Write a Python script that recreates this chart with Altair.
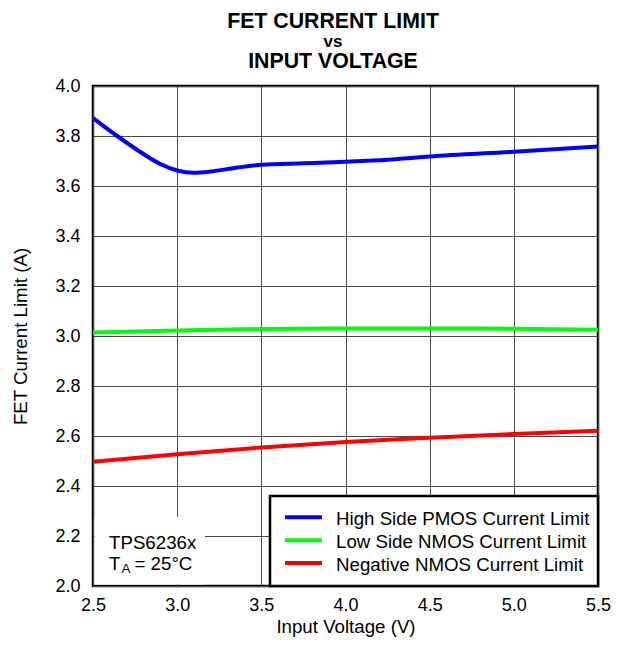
import altair as alt
import pandas as pd

# ---- data ----
series_names = ["High Side PMOS Current Limit", "Low Side NMOS Current Limit", "Negative NMOS Current Limit"]
series_colors = ["#0000FF", "#00FF00", "#FF0000"]

vin_high = [2.5, 2.65, 2.8, 2.9, 3.0, 3.1, 3.2, 3.35, 3.5, 3.75, 4.0, 4.25, 4.5, 5.0, 5.5]
ilim_high = [3.872, 3.797, 3.728, 3.688, 3.662, 3.653, 3.658, 3.673, 3.685, 3.691, 3.697, 3.705, 3.718, 3.737, 3.758]

vin_low = [2.5, 3.0, 3.5, 4.0, 4.5, 5.0, 5.5]
ilim_low = [3.014, 3.022, 3.028, 3.030, 3.030, 3.029, 3.025]

vin_neg = [2.5, 3.0, 3.5, 4.0, 4.5, 5.0, 5.5]
ilim_neg = [2.497, 2.527, 2.554, 2.576, 2.593, 2.608, 2.621]

x_ticks = [2.5, 3.0, 3.5, 4.0, 4.5, 5.0, 5.5]
y_ticks = [2.0, 2.2, 2.4, 2.6, 2.8, 3.0, 3.2, 3.4, 3.6, 3.8, 4.0]

title_lines = ["FET CURRENT LIMIT", "vs", "INPUT VOLTAGE"]
note_device = "TPS6236x"

FONT = "Liberation Sans, Arial, sans-serif"
W, H = 505, 500
TXT = 18.7

df = pd.concat([
    pd.DataFrame({"vin": vin_high, "ilim": ilim_high, "series": series_names[0]}),
    pd.DataFrame({"vin": vin_low, "ilim": ilim_low, "series": series_names[1]}),
    pd.DataFrame({"vin": vin_neg, "ilim": ilim_neg, "series": series_names[2]}),
])

color_scale = alt.Scale(domain=series_names, range=series_colors)

lines = alt.Chart(df).mark_line(strokeWidth=4, interpolate="monotone").encode(
    x=alt.X("vin:Q", scale=alt.Scale(domain=[2.5, 5.5], nice=False, zero=False),
            axis=alt.Axis(values=x_ticks, format=".1f", title="Input Voltage (V)",
                          labelPadding=10, labelFlush=False, labelOverlap=False,
                          titleX=W / 2, titleY=46,
                          titleBaseline="alphabetic", titleAlign="center")),
    y=alt.Y("ilim:Q", scale=alt.Scale(domain=[2.0, 4.0], nice=False, zero=False),
            axis=alt.Axis(values=y_ticks, format=".1f", title="FET Current Limit (A)",
                          labelPadding=13, labelFlush=False, labelOverlap=False,
                          titleX=-67, titleY=H / 2, titleAngle=-90,
                          titleBaseline="alphabetic", titleAlign="center")),
    color=alt.Color("series:N", scale=color_scale, legend=None),
)

one = alt.Data(values=[{}])

# legend box
legend_box = alt.Chart(one).mark_rect(fill="white", stroke="black", strokeWidth=2.5).encode(
    x=alt.value(177), x2=alt.value(W), y=alt.value(H - 90), y2=alt.value(H))

legend_layers = []
for i, (name, col) in enumerate(zip(series_names, series_colors)):
    yy = H - 68.7 + i * 22.9
    legend_layers.append(alt.Chart(one).mark_rule(color=col, strokeWidth=4).encode(
        x=alt.value(192), x2=alt.value(229), y=alt.value(yy)))
    legend_layers.append(alt.Chart(one).mark_text(
        text=name, font=FONT, fontSize=TXT, align="left", baseline="alphabetic", color="black").encode(
        x=alt.value(243), y=alt.value(yy + 8)))

# annotation box (white background hiding grid) and text
note_box = alt.Chart(one).mark_rect(fill="white").encode(
    x=alt.value(1.5), x2=alt.value(112), y=alt.value(H - 69), y2=alt.value(H - 1.5))
note1 = alt.Chart(one).mark_text(text=note_device, font=FONT, fontSize=TXT, align="left",
                                 baseline="alphabetic", color="black").encode(
    x=alt.value(16), y=alt.value(H - 37.3))
note2a = alt.Chart(one).mark_text(text="T", font=FONT, fontSize=TXT, align="left",
                                  baseline="alphabetic", color="black").encode(
    x=alt.value(16), y=alt.value(H - 16.3))
note2b = alt.Chart(one).mark_text(text="A", font=FONT, fontSize=13.5, align="left",
                                  baseline="alphabetic", color="black").encode(
    x=alt.value(28.5), y=alt.value(H - 13.5))
note2c = alt.Chart(one).mark_text(text="= 25°C", font=FONT, fontSize=TXT, align="left",
                                  baseline="alphabetic", color="black").encode(
    x=alt.value(41.5), y=alt.value(H - 16.3))

# title lines
t1 = alt.Chart(one).mark_text(text=title_lines[0], font=FONT, fontSize=21.3, fontWeight="bold",
                              align="center", baseline="alphabetic", color="black").encode(
    x=alt.value(240), y=alt.value(-57.7))
t2 = alt.Chart(one).mark_text(text=title_lines[1], font=FONT, fontSize=17, fontWeight="bold",
                              align="center", baseline="alphabetic", color="black").encode(
    x=alt.value(240), y=alt.value(-39.5))
t3 = alt.Chart(one).mark_text(text=title_lines[2], font=FONT, fontSize=21.3, fontWeight="bold",
                              align="center", baseline="alphabetic", color="black").encode(
    x=alt.value(240), y=alt.value(-17.7))

chart = alt.layer(lines, legend_box, *legend_layers, note_box, note1, note2a, note2b, note2c,
                  t1, t2, t3).properties(
    width=W, height=H,
    autosize=alt.AutoSizeParams(type="none"),
    padding={"left": 85, "top": 78, "right": 16, "bottom": 51},
).configure_view(
    stroke="black", strokeWidth=2.5
).configure_axis(
    domain=False, ticks=False, grid=True, gridColor="#4a4a4a", gridWidth=1,
    labelFont=FONT, labelFontSize=18, labelColor="black",
    titleFont=FONT, titleFontSize=TXT, titleFontWeight="normal", titleColor="black",
)

chart.save("out.html", embed_options={"renderer": "svg", "actions": False})
